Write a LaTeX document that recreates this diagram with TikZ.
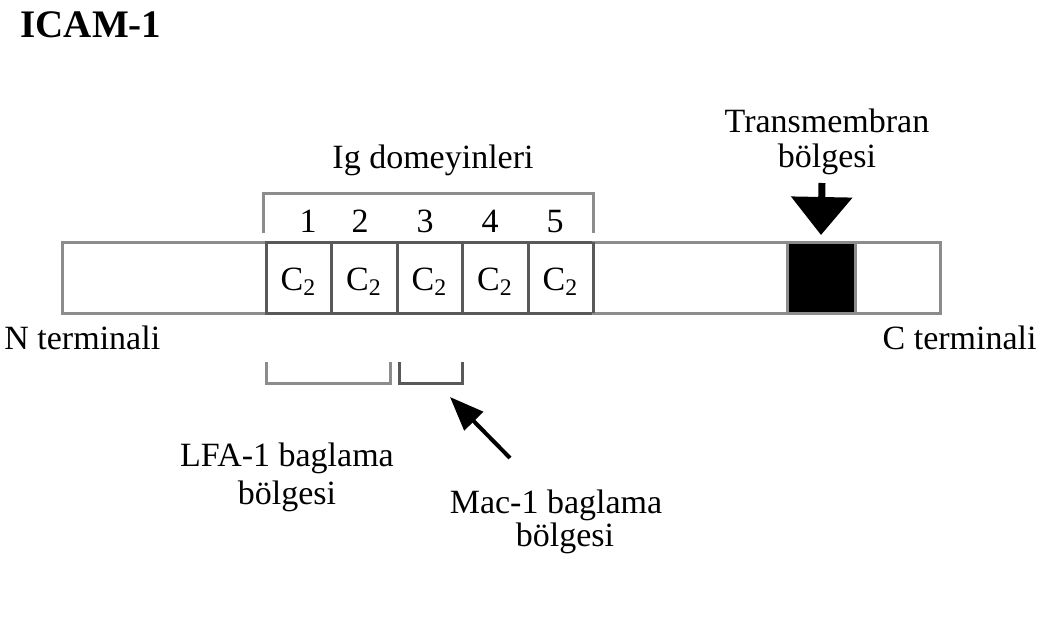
\documentclass[tikz,border=0pt]{standalone}
\usepackage{fontspec}
\setmainfont{Liberation Serif}
\usetikzlibrary{arrows.meta}
\definecolor{barline}{gray}{0.55}
\definecolor{divline}{gray}{0.35}
\begin{document}
\begin{tikzpicture}[x=0.5pt,y=-0.5pt,
  every node/.style={font=\fontsize{17}{20}\selectfont},
  lbl/.style={inner sep=0pt, anchor=base},
  cell/.style={draw=divline, line width=1.5pt, minimum height=35.5pt,
    inner sep=0pt, outer sep=0pt, anchor=north west, fill=white},
  bracket/.style={draw=barline, line width=1.5pt}]
\useasboundingbox (0,0) rectangle (1040,621);

% title
\node[lbl, font=\bfseries\fontsize{19.5}{22}\selectfont] (title) at (91,37) {ICAM-1};

% protein bar: N-terminal part, five Ig domains, spacer, membrane segment, C-terminal tail
\node[cell, draw=barline, minimum width=102pt] (ncell) at (62,242) {};
\node[cell, minimum width=32.5pt] (d1) at (266,242) {};
\node[cell, minimum width=33pt]   (d2) at (331,242) {};
\node[cell, minimum width=32.5pt] (d3) at (397,242) {};
\node[cell, minimum width=33pt]   (d4) at (462,242) {};
\node[cell, minimum width=32.5pt] (d5) at (528,242) {};
\node[cell, draw=barline, minimum width=97pt] (mid) at (593,242) {};
\node[cell, draw=barline, minimum width=42.5pt] (ccell) at (855,242) {};
\node[cell, draw=barline, fill=black, minimum width=34pt] (tm) at (787,242) {};
\draw[divline, line width=1.5pt] (d1.north west) -- (d1.south west)
  (d5.north east) -- (d5.south east);

% domain labels
\foreach \n/\x in {d1/298.5, d2/364, d3/429.5, d4/495, d5/560.5}
  \node[lbl] (\n c) at (\x,290) {C\textsubscript{2}};
\foreach \k/\x in {1/308, 2/360, 3/425, 4/490, 5/555}
  \node[lbl] (num\k) at (\x,232) {\k};

% bracket over the Ig domains
\coordinate (ubl) at (263,233);
\coordinate (ubr) at (593,233);
\draw[bracket] (ubl) -- ++(0,-40) -| (ubr);
\node[lbl] (ig) at (433,168) {Ig domeyinleri};

% transmembrane marker
\node[lbl] (tmt1) at (827,132) {Transmembran};
\node[lbl] (tmt2) at (827,167) {bölgesi};
\coordinate (tmtop) at (822,183);
\draw[line width=3.5pt, -{Triangle[length=19pt,width=30pt]}] (tmtop) -- ([yshift=3.5pt]tm.north);

% terminal labels
\node[lbl, anchor=base west] (nterm) at (4,349) {N terminali};
\node[lbl, anchor=base east] (cterm) at (1037,349) {C terminali};

% binding regions
\coordinate (lfa1) at (266,362);
\coordinate (lfa2) at (390,362);
\coordinate (mac1) at (399,362);
\coordinate (mac2) at (462,362);
\draw[bracket] (lfa1) -- ++(0,21) -| (lfa2);
\draw[bracket, draw=divline] (mac1) -- ++(0,21) -| (mac2);

\node[lbl] (lfat1) at (287,466) {LFA-1 baglama};
\node[lbl] (lfat2) at (287,504) {bölgesi};
\node[lbl] (mact1) at (556,513) {Mac-1 baglama};
\node[lbl] (mact2) at (565,546) {bölgesi};
\coordinate (macarrow) at (510,458);
\coordinate (macbr) at (450,397);
\draw[line width=2pt, -{Triangle[length=17pt,width=13pt]}] (macarrow) -- (macbr);
\end{tikzpicture}
\end{document}
